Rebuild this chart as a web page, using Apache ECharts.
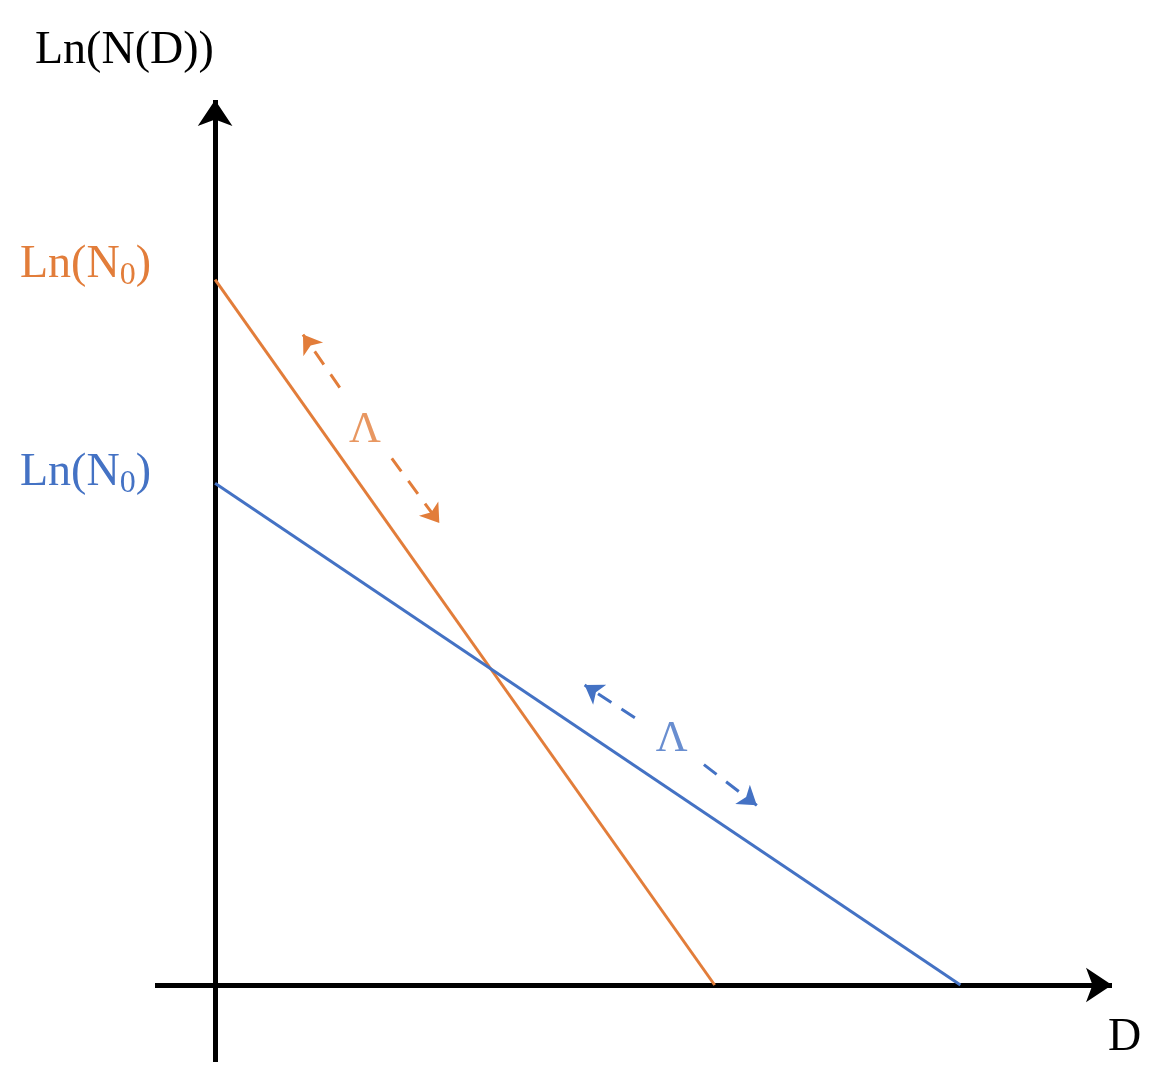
<!DOCTYPE html>
<html>
<head>
<meta charset="utf-8">
<script src="https://cdn.jsdelivr.net/npm/echarts@6/dist/echarts.min.js"></script>
<style>html,body{margin:0;padding:0;background:#fff}#main{width:1173px;height:1092px}</style>
</head>
<body>
<div id="main"></div>
<script>
var orange = '#E27D3A', blue = '#4472C4';
var orangeLine = [[0, 79.7], [55.7, 0]];
var blueLine = [[0, 56.7], [83.1, 0]];
var orangeArrows = [[[13.9, 67.5], [9.8, 73.5]], [[19.7, 59.5], [25.0, 52.2]]];
var blueArrows = [[[46.8, 30.2], [41.2, 33.9]], [[54.5, 24.9], [60.4, 20.3]]];
var lambdaPos = [[16.7, 62.7], [50.9, 27.7]];
var axisLines = [[[-6.7, 0], [100, 0]], [[0, -8.7], [100 * 0 + 0, 100]]];

var font = '"Liberation Serif", "DejaVu Serif", serif';
var chart = echarts.init(document.getElementById('main'));

function arrowSeries(data, color) {
    return {
        type: 'lines', coordinateSystem: 'cartesian2d', silent: true,
        symbol: ['none', 'arrow'], symbolSize: [14, 18],
        lineStyle: {color: color, width: 3, type: [16, 12], opacity: 1},
        data: data.map(function (d) { return {coords: d}; })
    };
}

chart.setOption({
    animation: false,
    grid: {left: 155, right: 61, top: 100, bottom: 30},
    xAxis: {type: 'value', min: -6.7, max: 100, show: false},
    yAxis: {type: 'value', min: -8.7, max: 100, show: false},
    graphic: [
        {type: 'text', left: 35, top: 28, style: {text: 'Ln(N(D))', font: '46px ' + font, fill: '#000'}},
        {type: 'text', left: 1108, top: 1015, style: {text: 'D', font: '46px ' + font, fill: '#000'}},
        {type: 'text', left: 20, top: 242, style: {text: 'Ln(N{s|0})', font: '46px ' + font, fill: orange,
            rich: {s: {fontSize: 32, fontFamily: font, fill: orange, padding: [22, 0, 0, 0]}}}},
        {type: 'text', left: 20, top: 450, style: {text: 'Ln(N{s|0})', font: '46px ' + font, fill: blue,
            rich: {s: {fontSize: 32, fontFamily: font, fill: blue, padding: [22, 0, 0, 0]}}}}
    ],
    series: [
        {
            type: 'lines', coordinateSystem: 'cartesian2d', silent: true,
            symbol: ['none', 'arrow'], symbolSize: [18, 26],
            lineStyle: {color: '#000', width: 5, opacity: 1},
            data: axisLines.map(function (d) { return {coords: d}; })
        },
        {type: 'line', data: orangeLine, symbol: 'none', lineStyle: {color: orange, width: 3}},
        {type: 'line', data: blueLine, symbol: 'none', lineStyle: {color: blue, width: 3}},
        arrowSeries(orangeArrows, orange),
        arrowSeries(blueArrows, blue),
        {
            type: 'scatter', symbolSize: 0, silent: true,
            data: lambdaPos.map(function (p, i) {
                return {value: p, label: {show: true, formatter: 'Λ', position: 'inside',
                    fontSize: 44, fontFamily: font, color: i === 0 ? orange : blue}};
            })
        }
    ]
});
</script>
</body>
</html>
